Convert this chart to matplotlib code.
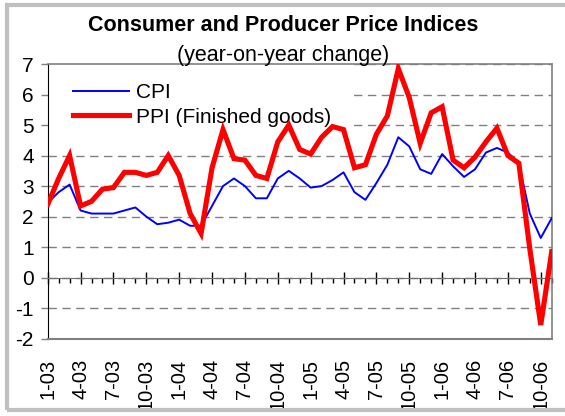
import numpy as np
import matplotlib
matplotlib.use("Agg")
import matplotlib.pyplot as plt
from matplotlib.patches import Rectangle
from matplotlib.ticker import MultipleLocator, FixedLocator

plt.rcParams["font.family"] = ["Liberation Sans", "DejaVu Sans"]
plt.rcParams["axes.unicode_minus"] = False

# monthly year-on-year change, Jan 2003 - Nov 2006
cpi = [2.45, 2.8, 3.05, 2.2, 2.1, 2.1, 2.1, 2.2, 2.3, 2.0, 1.75, 1.8,
       1.9, 1.7, 1.7, 2.35, 3.0, 3.25, 3.0, 2.6, 2.6, 3.25, 3.5, 3.25,
       2.95, 3.0, 3.2, 3.45, 2.8, 2.55, 3.1, 3.7, 4.6, 4.3, 3.55, 3.4,
       4.05, 3.65, 3.3, 3.55, 4.1, 4.25, 4.1, 3.75, 2.1, 1.3, 1.95]
ppi = [2.4, 3.25, 4.0, 2.35, 2.5, 2.9, 2.95, 3.45, 3.45, 3.35, 3.45, 4.0,
       3.35, 2.1, 1.45, 3.6, 4.85, 3.9, 3.85, 3.35, 3.25, 4.45, 5.0, 4.2,
       4.05, 4.6, 4.95, 4.85, 3.6, 3.7, 4.7, 5.3, 6.85, 5.9, 4.4, 5.4,
       5.6, 3.85, 3.6, 3.95, 4.45, 4.9, 4.0, 3.75, 0.95, -1.55, 0.85]

tick_labels = ["1-03", "4-03", "7-03", "10-03", "1-04", "4-04", "7-04", "10-04",
               "1-05", "4-05", "7-05", "10-05", "1-06", "4-06", "7-06", "10-06"]

x = np.arange(len(cpi))

fig = plt.figure(figsize=(5.65, 4.16), dpi=100)
ax = fig.add_axes([47.7 / 565, 1 - 338.7 / 416, 504 / 565, 274.7 / 416])

ax.plot(x, cpi, color="#0000FF", lw=1.4, label="CPI", zorder=6)
ax.plot(x, ppi, color="#FF0000", lw=3.7, label="PPI (Finished goods)", zorder=6,
        solid_joinstyle="miter")

ax.set_xlim(0, len(cpi) - 1)
ax.set_ylim(-2, 7)

# y axis
ax.yaxis.set_major_locator(MultipleLocator(1))
ax.tick_params(axis="y", direction="out", length=5, width=1, color="#808080",
               labelsize=15, pad=5)
ax.yaxis.grid(True, color="#808080", lw=1, linestyle=(0, (6, 4)))
ax.set_axisbelow(True)

# x axis crosses at zero, labels sit below the plot
ax.xaxis.set_major_locator(FixedLocator(x[::3]))
ax.xaxis.set_minor_locator(FixedLocator(x))
ax.set_xticklabels(tick_labels)
ax.spines["bottom"].set_position(("data", 0))
ax.spines["bottom"].set_color("#707070")
ax.tick_params(axis="x", which="major", direction="inout", length=9, width=1,
               color="black", labelsize=14.5, pad=54, labelrotation=90)
ax.tick_params(axis="x", which="minor", direction="out", length=3.6, width=1,
               color="black")

ax.spines["left"].set_color("black")
for side in ["top", "right"]:
    ax.spines[side].set_color("#808080")
    ax.spines[side].set_linewidth(1.2)
ax.axhline(-2, color="#808080", lw=1.5, clip_on=False, zorder=7)

# white legend area hides the gridlines behind it
ax.add_patch(Rectangle((0, 0.771), 0.608, 0.229, transform=ax.transAxes,
                       facecolor="white", edgecolor="none", zorder=1))

ax.legend(loc="upper left", bbox_to_anchor=(0.036, 0.956), fontsize=15,
          frameon=False, handlelength=2.7, handletextpad=0.3,
          labelspacing=0.25, borderaxespad=0.0, borderpad=0.35)

fig.text(0.501, 1 - 31 / 416, "Consumer and Producer Price Indices",
         ha="center", va="baseline", fontsize=15.5, fontweight="bold")
fig.text(0.501, 1 - 61 / 416, "(year-on-year change)",
         ha="center", va="baseline", fontsize=15.5)

# outer chart border
fig.patches.append(Rectangle((7 / 565, 1 - 410 / 416), 1.2, 405 / 416,
                             transform=fig.transFigure, fill=False,
                             edgecolor="#C0C0C0", lw=3, zorder=0))

fig.savefig("out.png", dpi=100)
